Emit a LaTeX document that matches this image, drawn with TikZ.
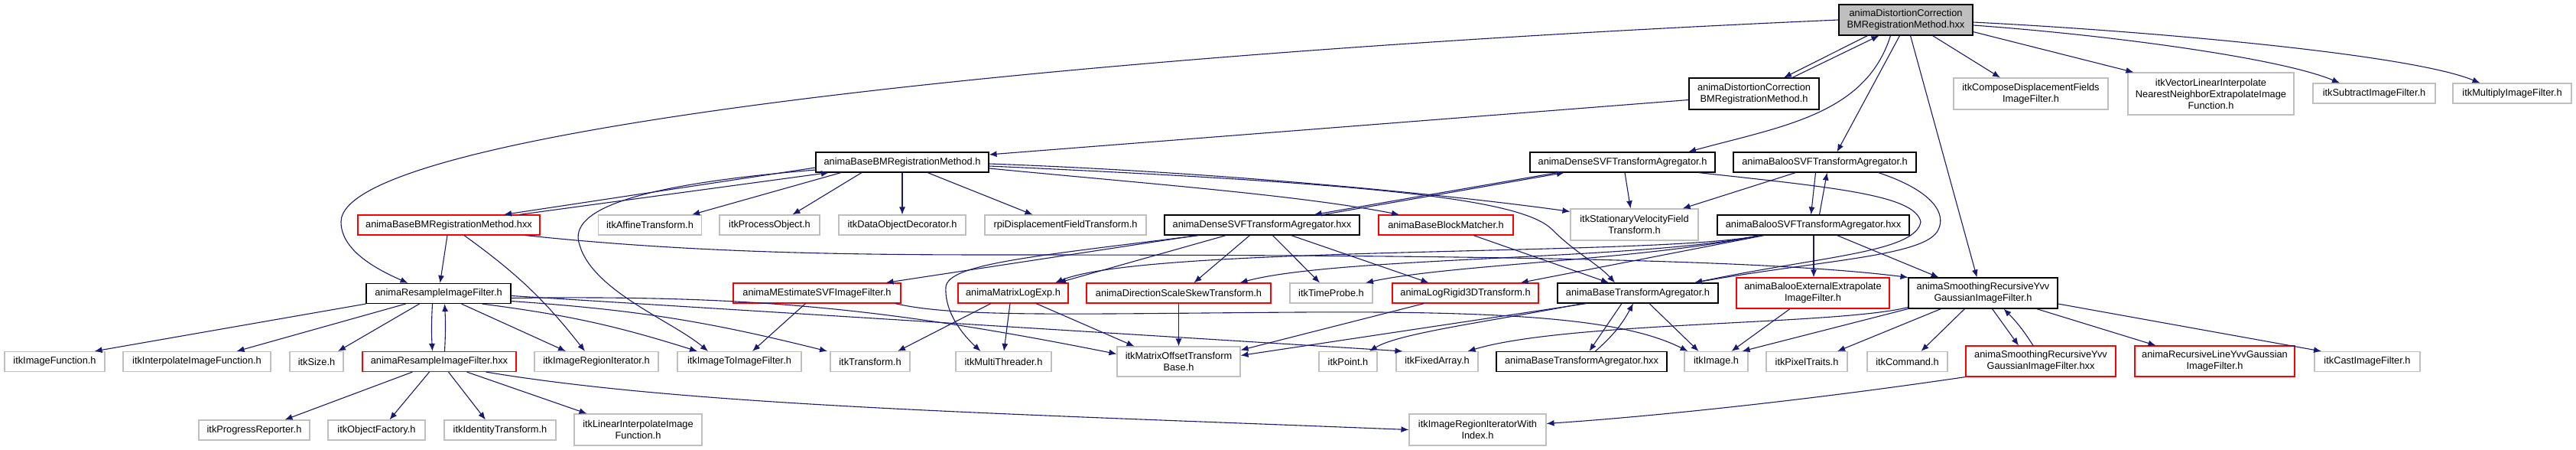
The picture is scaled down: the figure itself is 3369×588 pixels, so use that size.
\documentclass[tikz,border=0pt]{standalone}
\usepackage{fontspec}
\setmainfont{Liberation Sans}
\usepackage{tikz}
\usetikzlibrary{arrows.meta}
\definecolor{edgeblue}{HTML}{191970}
\definecolor{extgray}{HTML}{BFBFBF}

\begin{document}
\begin{tikzpicture}[
    x=1pt,y=-1pt,>={Latex[length=10pt,width=8pt]},
    inc/.style={->,draw=edgeblue,line width=1.1pt},
    file/.style={draw,line width=1.1pt,fill=white,inner sep=0pt,minimum height=26pt,
      align=center,font=\fontsize{12.8}{15}\selectfont},
    docfile/.style={file,draw=black},
    redfile/.style={file,draw=red},
    extfile/.style={file,draw=extgray},
    rootfile/.style={file,draw=black,fill=extgray}
  ]
    \useasboundingbox (0,0) rectangle (3369,588);

    % top rows
    \node[rootfile,minimum width=175pt,minimum height=40pt] (dcorhxx) at (2492.5,26) {animaDistortionCorrection\\BMRegistrationMethod.hxx};
    \node[docfile,minimum width=170pt,minimum height=41pt] (dcorh) at (2294,122.5) {animaDistortionCorrection\\BMRegistrationMethod.h};
    \node[extfile,minimum width=202pt,minimum height=41pt] (compose) at (2656,122.5) {itkComposeDisplacementFields\\ImageFilter.h};
    \node[extfile,minimum width=217pt,minimum height=55pt] (vecinterp) at (2891.5,122.5) {itkVectorLinearInterpolate\\NearestNeighborExtrapolateImage\\Function.h};
    \node[extfile,minimum width=160pt] (subtract) at (3105,122) {itkSubtractImageFilter.h};
    \node[extfile,minimum width=155pt] (multiply) at (3285.5,122) {itkMultiplyImageFilter.h};
    \node[docfile,minimum width=226pt] (bbmh) at (1180,212) {animaBaseBMRegistrationMethod.h};
    \node[docfile,minimum width=242pt] (densesvfh) at (2122,212) {animaDenseSVFTransformAgregator.h};
    \node[docfile,minimum width=239pt] (baloosvfh) at (2386.5,212) {animaBalooSVFTransformAgregator.h};

    % third row
    \node[redfile,minimum width=238pt] (bbmhxx) at (587,294) {animaBaseBMRegistrationMethod.hxx};
    \node[extfile,minimum width=135pt] (affine) at (850,294) {itkAffineTransform.h};
    \node[extfile,minimum width=131pt] (procobj) at (1006.5,294) {itkProcessObject.h};
    \node[extfile,minimum width=166pt] (dataobj) at (1180,294) {itkDataObjectDecorator.h};
    \node[extfile,minimum width=211pt] (rpidisp) at (1393.5,294) {rpiDisplacementFieldTransform.h};
    \node[docfile,minimum width=255pt] (densesvfhxx) at (1650.5,294) {animaDenseSVFTransformAgregator.hxx};
    \node[redfile,minimum width=176pt] (blockmatch) at (1891,294) {animaBaseBlockMatcher.h};
    \node[extfile,minimum width=167pt,minimum height=41pt] (svfield) at (2137.5,293.5) {itkStationaryVelocityField\\Transform.h};
    \node[docfile,minimum width=251pt] (baloosvfhxx) at (2371.5,294) {animaBalooSVFTransformAgregator.hxx};

    % fourth row
    \node[docfile,minimum width=189pt] (resampleh) at (573.5,383.5) {animaResampleImageFilter.h};
    \node[redfile,minimum width=219pt] (mestimate) at (1068.5,383) {animaMEstimateSVFImageFilter.h};
    \node[redfile,minimum width=144pt] (matrixlog) at (1325,383) {animaMatrixLogExp.h};
    \node[redfile,minimum width=241pt] (dirskew) at (1541.5,383) {animaDirectionScaleSkewTransform.h};
    \node[extfile,minimum width=108pt] (timeprobe) at (1741,383) {itkTimeProbe.h};
    \node[redfile,minimum width=191pt] (logrigid) at (1916.5,383) {animaLogRigid3DTransform.h};
    \node[docfile,minimum width=210pt] (basetrh) at (2142,383) {animaBaseTransformAgregator.h};
    \node[redfile,minimum width=200pt,minimum height=40pt] (balooext) at (2371,383) {animaBalooExternalExtrapolate\\ImageFilter.h};
    \node[docfile,minimum width=195pt,minimum height=40pt] (yvvh) at (2593.5,383) {animaSmoothingRecursiveYvv\\GaussianImageFilter.h};

    % fifth row
    \node[extfile,minimum width=131pt] (imgfunc) at (71.5,472.5) {itkImageFunction.h};
    \node[extfile,minimum width=193pt] (interp) at (257.5,472.5) {itkInterpolateImageFunction.h};
    \node[extfile,minimum width=70pt] (size) at (414,472.5) {itkSize.h};
    \node[redfile,minimum width=201pt] (resamplehxx) at (574.5,472.5) {animaResampleImageFilter.hxx};
    \node[extfile,minimum width=162pt] (regiter) at (780,472.5) {itkImageRegionIterator.h};
    \node[extfile,minimum width=162pt] (img2img) at (967,472.5) {itkImageToImageFilter.h};
    \node[extfile,minimum width=104pt] (transform) at (1138,472.5) {itkTransform.h};
    \node[extfile,minimum width=125pt] (multithr) at (1312.5,472.5) {itkMultiThreader.h};
    \node[extfile,minimum width=161pt,minimum height=39pt] (matoffset) at (1541.5,472.5) {itkMatrixOffsetTransform\\Base.h};
    \node[extfile,minimum width=76pt] (point) at (1763,472.5) {itkPoint.h};
    \node[extfile,minimum width=107pt] (fixedarr) at (1879.5,472.5) {itkFixedArray.h};
    \node[docfile,minimum width=223pt] (basetrhxx) at (2068.5,472.5) {animaBaseTransformAgregator.hxx};
    \node[extfile,minimum width=83pt] (image) at (2244.5,472.5) {itkImage.h};
    \node[extfile,minimum width=106pt] (pixtraits) at (2363,472.5) {itkPixelTraits.h};
    \node[extfile,minimum width=105pt] (command) at (2494.5,472.5) {itkCommand.h};
    \node[redfile,minimum width=196pt,minimum height=40pt] (yvvhxx) at (2669,472) {animaSmoothingRecursiveYvv\\GaussianImageFilter.hxx};
    \node[redfile,minimum width=209pt,minimum height=40pt] (recline) at (2896.5,472) {animaRecursiveLineYvvGaussian\\ImageFilter.h};
    \node[extfile,minimum width=138pt] (cast) at (3096,472.5) {itkCastImageFilter.h};

    % bottom row
    \node[extfile,minimum width=145pt] (progress) at (332.5,562) {itkProgressReporter.h};
    \node[extfile,minimum width=127pt] (objfact) at (492.5,562) {itkObjectFactory.h};
    \node[extfile,minimum width=146pt] (identity) at (654,562) {itkIdentityTransform.h};
    \node[extfile,minimum width=167pt,minimum height=41pt] (linearint) at (834.5,561.5) {itkLinearInterpolateImage\\Function.h};
    \node[extfile,minimum width=179pt,minimum height=41pt] (regiterwi) at (1932.5,561.5) {itkImageRegionIteratorWith\\Index.h};

    % includes of the root file
    \draw[inc] ([xshift=-50]dcorhxx.south) -- ([xshift=39]dcorh.north);
    \draw[inc] ([xshift=50]dcorh.north) -- ([xshift=-35]dcorhxx.south);
    \draw[inc] (dcorhxx.west) .. controls (1400,70) and (446,170) .. (446,290)
      .. controls (446,330) and (500,355) .. ([xshift=-40]resampleh.north);
    \draw[inc] ([xshift=-20]dcorhxx.south) .. controls (2440,150) and (2330,165) .. ([xshift=86]densesvfh.north);
    \draw[inc] ([xshift=-8]dcorhxx.south) -- ([xshift=16]baloosvfh.north);
    \draw[inc] ([xshift=6]dcorhxx.south) -- ([xshift=-8]yvvh.north);
    \draw[inc] ([xshift=35]dcorhxx.south) -- ([xshift=-40]compose.north);
    \draw[inc] ([yshift=5]dcorhxx.south east) -- ([xshift=8]vecinterp.north west);
    \draw[inc] ([yshift=-7]dcorhxx.east) .. controls (2750,45) and (2980,75) .. ([xshift=-45]subtract.north);
    \draw[inc] ([yshift=-3]dcorhxx.east) .. controls (2800,40) and (3150,70) .. ([xshift=-42]multiply.north);
    \draw[inc] ([yshift=-8]dcorh.west) -- ([yshift=10]bbmh.east);

    % block matching registration
    \draw[inc] ([yshift=-7]bbmh.west) -- ([xshift=72]bbmhxx.north);
    \draw[inc] ([xshift=92]bbmhxx.north) -- ([xshift=-96]bbmh.south);
    \draw[inc] ([yshift=-10]bbmh.west) .. controls (850,240) and (740,270) .. (758,320)
      .. controls (775,380) and (880,420) .. ([xshift=-41]img2img.north);
    \draw[inc] ([xshift=-80]bbmh.south) -- ([xshift=55]affine.north);
    \draw[inc] ([xshift=-53]bbmh.south) -- ([xshift=30]procobj.north);
    \draw[inc] (bbmh) -- (dataobj);
    \draw[inc] ([xshift=33]bbmh.south) -- ([xshift=-43]rpidisp.north);
    \draw[inc] ([yshift=-8]bbmh.east) .. controls (1500,240) and (1700,255) .. ([xshift=-61]blockmatch.north);
    \draw[inc] ([yshift=-2]bbmh.east) .. controls (1600,225) and (1900,255) .. ([yshift=-4]svfield.north west);
    \draw[inc] ([yshift=-5]bbmh.east) .. controls (1800,240) and (1990,260) .. (2030,300)
      .. controls (2060,330) and (2090,345) .. ([xshift=-30]basetrh.north);
    \draw[inc] ([xshift=-2]bbmhxx.south) -- ([xshift=2]resampleh.north);
    \draw[inc] ([xshift=20]bbmhxx.south) to[bend left=8] ([xshift=-15]regiter.north);
    \draw[inc] ([xshift=100]bbmhxx.south) .. controls (900,330) and (1100,333) .. (1300,333)
      .. controls (1900,333) and (2300,338) .. (yvvh.north west);
    \draw[inc] ([xshift=36]blockmatch.south) -- ([xshift=-38]basetrh.north);

    % resampling filter
    \draw[inc] (resampleh.south west) -- ([xshift=52]imgfunc.north);
    \draw[inc] ([xshift=-43]resampleh.south) -- ([xshift=52]interp.north);
    \draw[inc] ([xshift=-25]resampleh.south) -- ([xshift=28]size.north);
    \draw[inc] ([xshift=-8]resampleh.south) to[bend right=3] ([xshift=-9]resamplehxx.north);
    \draw[inc] ([xshift=7]resamplehxx.north) to[bend right=3] ([xshift=8]resampleh.south);
    \draw[inc] ([xshift=30]resampleh.south) -- ([xshift=-40]regiter.north);
    \draw[inc] ([xshift=57]resampleh.south) to[bend left=5] ([xshift=-55]img2img.north);
    \draw[inc] ([yshift=-10]resampleh.east) to[bend left=5] ([xshift=-56]transform.north);
    \draw[inc] ([yshift=-6]resampleh.east) to[bend left=6] ([yshift=10]matoffset.west);
    \draw[inc] ([yshift=-3]resampleh.east) -- ([xshift=-45]fixedarr.north);
    \draw[inc] ([xshift=-35]resamplehxx.south) -- ([xshift=40]progress.north);
    \draw[inc] ([xshift=-13]resamplehxx.south) -- ([xshift=17]objfact.north);
    \draw[inc] ([xshift=12]resamplehxx.south) -- ([xshift=-19]identity.north);
    \draw[inc] ([xshift=36]resamplehxx.south) -- ([xshift=-67]linearint.north);
    \draw[inc] ([xshift=61]resamplehxx.south) .. controls (900,530) and (1300,540) .. (regiterwi.west);
    \draw[inc] ([xshift=-15]mestimate.south) -- ([xshift=17]img2img.north);
    \draw[inc] ([xshift=-8]mestimate.south east) .. controls (1250,415) and (1400,410) .. (1700,408)
      .. controls (2000,406) and (2130,420) .. ([xshift=-37]image.north);

    % dense SVF agregator
    \draw[inc] ([xshift=-85]densesvfh.south) -- ([xshift=68]densesvfhxx.north);
    \draw[inc] ([xshift=80]densesvfhxx.north) -- ([xshift=-76]densesvfh.south);
    \draw[inc] ([xshift=3]densesvfh.south) -- ([xshift=-5]svfield.north);
    \draw[inc] ([xshift=99]densesvfh.south) .. controls (2400,245) and (2505,255) .. (2512,290)
      .. controls (2505,330) and (2380,335) .. ([xshift=74]basetrh.north);
    \draw[inc] ([xshift=-85]densesvfhxx.south) -- ([xshift=90]mestimate.north);
    \draw[inc] ([xshift=-82]densesvfhxx.south) .. controls (1350,335) and (1240,345) .. (1237,375)
      .. controls (1235,410) and (1262,440) .. ([xshift=-30]multithr.north);
    \draw[inc] ([xshift=-47]densesvfhxx.south) -- ([xshift=59]matrixlog.north);
    \draw[inc] ([xshift=-16]densesvfhxx.south) -- ([xshift=20]dirskew.north);
    \draw[inc] ([xshift=14]densesvfhxx.south) -- ([xshift=-15]timeprobe.north);
    \draw[inc] ([xshift=38]densesvfhxx.south) -- ([xshift=-48]logrigid.north);

    % baloo SVF agregator
    \draw[inc] ([xshift=-38]baloosvfh.south) -- ([xshift=-21]svfield.north east);
    \draw[inc] ([xshift=-12]baloosvfh.south) -- ([xshift=-3]baloosvfhxx.north);
    \draw[inc] ([xshift=8]baloosvfhxx.north) -- ([xshift=3]baloosvfh.south);
    \draw[inc] ([xshift=70]baloosvfh.south) .. controls (2530,250) and (2545,280) .. (2535,300)
      .. controls (2520,335) and (2380,340) .. ([xshift=74]basetrh.north);
    \draw[inc] ([xshift=-70]baloosvfhxx.south) .. controls (2180,335) and (1500,320) .. ([xshift=55]matrixlog.north);
    \draw[inc] ([xshift=-70]baloosvfhxx.south) .. controls (2150,340) and (1750,335) .. ([xshift=80]dirskew.north);
    \draw[inc] ([xshift=-70]baloosvfhxx.south) .. controls (2150,340) and (1900,345) .. ([xshift=45]timeprobe.north);
    \draw[inc] ([xshift=-64]baloosvfhxx.south) -- ([xshift=72]logrigid.north);
    \draw[inc] ([xshift=0.5]baloosvfhxx.south) -- ([xshift=1]balooext.north);
    \draw[inc] ([xshift=31]baloosvfhxx.south) -- ([xshift=-58]yvvh.north);

    % transforms
    \draw[inc] ([xshift=-29]matrixlog.south) -- ([xshift=36]transform.north);
    \draw[inc] ([xshift=-4]matrixlog.south) -- ([xshift=0.5]multithr.north);
    \draw[inc] ([xshift=30]matrixlog.south) -- ([xshift=-58]matoffset.north);
    \draw[inc] (dirskew) -- (matoffset);
    \draw[inc] ([xshift=-54]logrigid.south) -- ([yshift=15]matoffset.east);
    \draw[inc] ([xshift=-21]basetrh.south) -- ([xshift=10]basetrhxx.north);
    \draw[inc] ([xshift=18]basetrhxx.north) to[bend right=10] ([xshift=-6]basetrh.south);
    \draw[inc] ([xshift=-67]basetrh.south) -- ([yshift=8]matoffset.east);
    \draw[inc] ([xshift=-72]basetrh.south) .. controls (1950,420) and (1830,435) .. ([xshift=28]point.north);
    \draw[inc] ([xshift=15]basetrh.south) -- ([xshift=-23]image.north);
    \draw[inc] ([xshift=-30]balooext.south) -- ([xshift=20]image.north);

    % Yvv smoothing filter
    \draw[inc] (yvvh.south west) -- ([xshift=34]image.north);
    \draw[inc] ([yshift=2]yvvh.south west) .. controls (2400,425) and (2050,420) .. ([xshift=40]fixedarr.north);
    \draw[inc] ([xshift=-55]yvvh.south) -- ([xshift=40]pixtraits.north);
    \draw[inc] ([xshift=-24]yvvh.south) -- ([xshift=18]command.north);
    \draw[inc] ([xshift=12]yvvh.south) -- ([xshift=-29]yvvhxx.north);
    \draw[inc] ([xshift=-10]yvvhxx.north) to[bend right=6] ([xshift=27]yvvh.south);
    \draw[inc] ([xshift=70]yvvh.south) -- ([xshift=-77]recline.north);
    \draw[inc] ([yshift=-14]yvvh.east) -- ([xshift=-60]cast.north);
    \draw[inc] (yvvhxx.south west) .. controls (2350,525) and (2150,545) .. ([yshift=8]regiterwi.east);
  \end{tikzpicture}
\end{document}
